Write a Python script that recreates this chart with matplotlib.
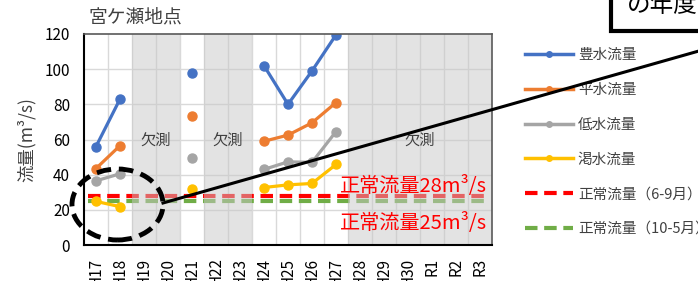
import numpy as np
import matplotlib
matplotlib.use("Agg")
import matplotlib.pyplot as plt
from matplotlib.lines import Line2D
from matplotlib.patches import Ellipse, Rectangle

plt.rcParams['font.family'] = ['Noto Sans CJK JP', 'DejaVu Sans']

years = ["H17", "H18", "H19", "H20", "H21", "H22", "H23", "H24", "H25", "H26",
         "H27", "H28", "H29", "H30", "R1", "R2", "R3"]
nan = np.nan
hosui = [56, 83, nan, nan, 98, nan, nan, 102, 80, 99, 119.5, nan, nan, nan, nan, nan, nan]
heisui = [43.5, 56.5, nan, nan, 73.5, nan, nan, 59, 62.5, 69.5, 81, nan, nan, nan, nan, nan, nan]
teisui = [36.5, 40.5, nan, nan, 49.5, nan, nan, 43, 47.3, 47, 64.5, nan, nan, nan, nan, nan, nan]
kassui = [24.8, 21.8, nan, nan, 31.8, nan, nan, 32.7, 34.2, 35, 45.8, nan, nan, nan, nan, nan, nan]
normal_summer = 28
normal_winter = 25
missing_spans = [("H19", "H20"), ("H22", "H23"), ("H28", "R3")]
series_names = ["豊水流量", "平水流量", "低水流量", "渇水流量"]
series_colors = ["#4472c4", "#ed7d31", "#a5a5a5", "#ffc000"]

W, H = 698, 281
fig = plt.figure(figsize=(W / 100, H / 100), dpi=100)
ax = fig.add_axes([84 / W, 1 - 245 / H, 408 / W, 211 / H])

x = np.arange(len(years))
ax.set_xlim(-0.5, len(years) - 0.5)
ax.set_ylim(0, 120)

# grid
for yv in range(20, 120, 20):
    ax.axhline(yv, color="#d9d9d9", lw=1, zorder=0.5)
for i in range(1, len(years)):
    ax.axvline(i - 0.5, color="#d9d9d9", lw=1, zorder=0.5)

# normal flow lines
ax.plot([-0.35, len(years) - 0.65], [normal_summer] * 2, color="#ff0000",
        lw=3, dashes=(3, 1.6), zorder=2)
ax.plot([-0.35, len(years) - 0.65], [normal_winter] * 2, color="#70ad47",
        lw=3, dashes=(3, 1.6), zorder=2)

for vals, c in zip([hosui, heisui, teisui, kassui], series_colors):
    ax.plot(x, vals, color=c, lw=2.3, marker="o", ms=6.5, zorder=3)

# missing-data shading (semi-transparent overlay)
for a, b in missing_spans:
    i0, i1 = years.index(a), years.index(b)
    ax.axvspan(i0 - 0.5, i1 + 0.5, color="#c8c8c8", alpha=0.5, zorder=4, lw=0)
    ax.text((i0 + i1) / 2, 59.5, "欠測",
            ha="center", va="center", fontsize=11, color="#404040", zorder=5)

ax.text(len(years) - 0.7, 33, "正常流量28m³/s", color="#ff0000", fontsize=14.5,
        ha="right", va="center", zorder=6)
ax.text(len(years) - 0.7, 12.3, "正常流量25m³/s", color="#ff0000", fontsize=14.5,
        ha="right", va="center", zorder=6)

ax.set_xticks(x)
ax.set_xticklabels(years, rotation=90, fontsize=11, color="#000000", va="top")
ax.set_yticks(range(0, 121, 20))
ax.tick_params(axis="y", labelsize=11, length=0, pad=10)
ax.tick_params(axis="x", length=0, pad=9)
for s in ["left", "bottom"]:
    ax.spines[s].set_color("#000000")
    ax.spines[s].set_linewidth(1.5)
for s in ["top", "right"]:
    ax.spines[s].set_color("#595959")
    ax.spines[s].set_linewidth(1.2)
for s in ax.spines.values():
    s.set_zorder(7)
ax.set_ylabel("流量(m³/s)", fontsize=12.5, color="#404040", labelpad=6)

fig.text(89 / W, 1 - 17 / H, "宮ケ瀬地点", fontsize=13.5, color="#404040",
         ha="left", va="center")

# legend
handles = [Line2D([], [], color=c, lw=2.5, marker="o", ms=4) for c in series_colors]
handles += [Line2D([], [], color="#ff0000", lw=3, dashes=(3, 1.6)),
            Line2D([], [], color="#70ad47", lw=3, dashes=(3, 1.6))]
labels = series_names + ["正常流量（6-9月）", "正常流量（10-5月）"]
fig.legend(handles, labels, loc="upper left", bbox_to_anchor=(518 / W, 1 - 41 / H),
           frameon=False, fontsize=10.5, labelcolor="#404040", handlelength=3.3,
           labelspacing=1.42, handletextpad=0.3, borderpad=0)

# annotation: dashed ellipse, line, box
ell = Ellipse((117.5 / W, 1 - 204.5 / H), 91 / W, 71 / H, transform=fig.transFigure,
              fill=False, ec="black", lw=3.5, ls=(0, (3, 1.6)), zorder=10)
fig.add_artist(ell)
fig.add_artist(Line2D([163 / W, 720 / W], [1 - 203 / H, 1 - 45 / H],
                      transform=fig.transFigure, color="black", lw=2.2, zorder=10))
fig.add_artist(Rectangle((611 / W, 1 - 31 / H), 120 / W, 45 / H, transform=fig.transFigure,
                         fill=True, fc="white", ec="black", lw=3, zorder=11))
fig.text(627 / W, 1 - 5 / H, "の年度", fontsize=17, color="black", ha="left",
         va="center", zorder=12)

fig.savefig("out.png", dpi=100)
